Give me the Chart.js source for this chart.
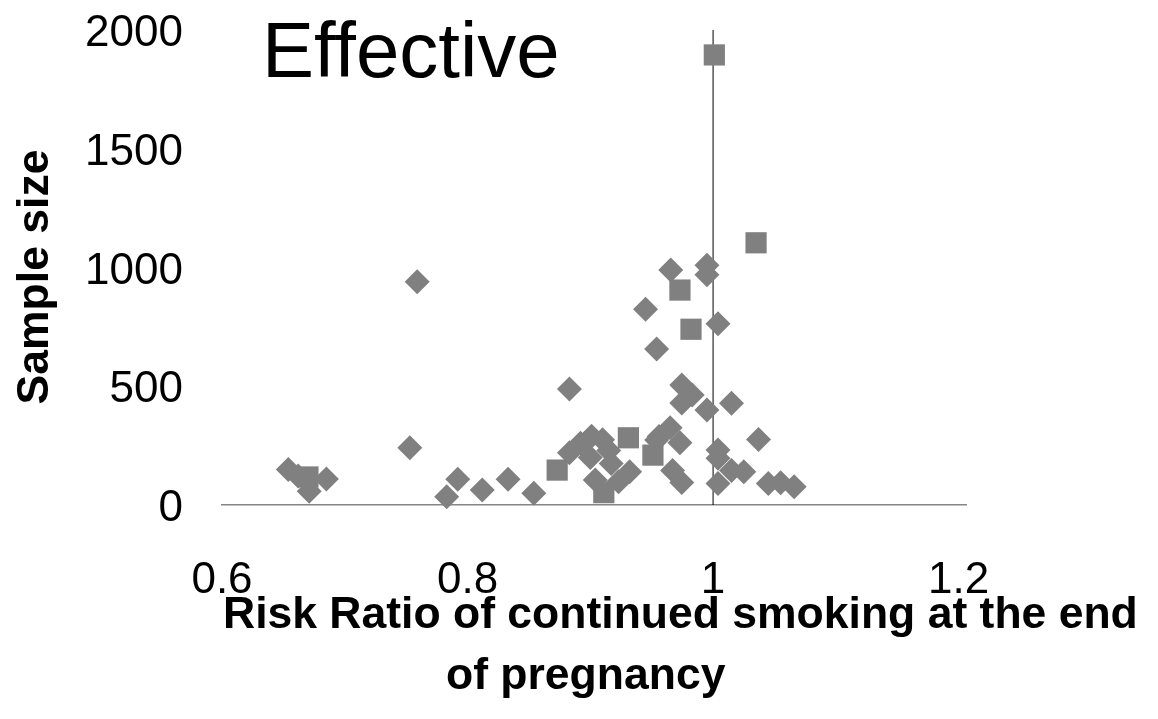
<!DOCTYPE html>
<html>
<head>
<meta charset="utf-8">
<script src="https://cdn.jsdelivr.net/npm/chart.js@4"></script>
<style>
html,body{margin:0;padding:0;background:#ffffff;}
#wrap{width:1158px;height:719px;position:relative;}
</style>
</head>
<body>
<div id="wrap"><canvas id="c" width="1158" height="719"></canvas></div>
<script>
// ---- data ----
const chartTitle = "Effective";
const xAxisTitle = ["Risk Ratio of continued smoking at the end", "of pregnancy"];
const yAxisTitle = "Sample size";
const xTicks = [0.6, 0.8, 1, 1.2];
const yTicks = [0, 500, 1000, 1500, 2000];

// diamond series: risk ratio / sample size
const diamondRR = [0.654, 0.662, 0.671, 0.685, 0.753, 0.759, 0.783, 0.792, 0.812, 0.833,
                   0.854, 0.883, 0.883, 0.892, 0.901, 0.910, 0.900, 0.915, 0.904, 0.917,
                   0.923, 0.932, 0.954, 0.956, 0.965, 0.973, 0.967, 0.9745, 0.9745, 0.983,
                   0.9745, 0.995, 1.015, 1.004, 1.004, 1.004, 1.015, 1.025, 1.037, 1.045,
                   1.055, 1.066, 0.9655, 0.995, 0.995, 0.945, 1.004, 0.954];
const diamondN  = [150, 122, 58, 110, 241, 940, 35, 108, 63, 108,
                   49, 488, 220, 260, 290, 275, 200, 230, 105, 175,
                   98, 140, 274, 288, 325, 262, 145, 95, 505, 463,
                   430, 400, 428, 232, 197, 91, 145, 140, 276, 91,
                   94, 77, 990, 1010, 970, 824, 763, 657];

// square series
const squareRR = [0.670, 0.873, 0.931, 0.911, 0.951, 1.035, 0.973, 0.982, 1.001];
const squareN  = [118, 147, 283, 52, 210, 1104, 905, 740, 1895];

// vertical axis drawn where x = 1
const refLineRR = [1, 1];
const refLineN  = [0, 2000];

const FONT = '"Liberation Sans", Arial, Helvetica, sans-serif';
const MARK = '#808080';

function pts(xs, ys) { return xs.map((x, i) => ({ x: x, y: ys[i] })); }

const textPlugin = {
  id: 'textPlugin',
  afterDraw(chart) {
    const ctx = chart.ctx;
    ctx.save();
    ctx.fillStyle = '#000';
    ctx.textBaseline = 'alphabetic';
    ctx.textAlign = 'left';
    ctx.font = '78px ' + FONT;
    ctx.fillText(chartTitle, 262, 77);
    ctx.font = 'bold 44.5px ' + FONT;
    ctx.fillText(xAxisTitle[0], 223, 628);
    ctx.fillText(xAxisTitle[1], 446, 689);
    // vertical axis title
    ctx.save();
    ctx.translate(36, 277);
    ctx.rotate(-Math.PI / 2);
    ctx.textAlign = 'center';
    ctx.textBaseline = 'middle';
    ctx.font = 'bold 44.5px ' + FONT;
    ctx.fillText(yAxisTitle, 0, 0);
    ctx.restore();
    ctx.restore();
  }
};

new Chart(document.getElementById('c'), {
  type: 'scatter',
  data: {
    datasets: [
      {
        label: 'Diamonds',
        data: pts(diamondRR, diamondN),
        pointStyle: 'rectRot',
        pointRadius: 12.5,
        pointHoverRadius: 12.5,
        backgroundColor: MARK,
        borderColor: MARK,
        borderWidth: 0,
        clip: false,
        order: 1
      },
      {
        label: 'Squares',
        data: pts(squareRR, squareN),
        pointStyle: 'rect',
        pointRadius: 15,
        pointHoverRadius: 15,
        backgroundColor: MARK,
        borderColor: MARK,
        borderWidth: 0,
        clip: false,
        order: 1
      },
      {
        label: 'axis',
        data: pts(refLineRR, refLineN),
        showLine: true,
        pointRadius: 0,
        borderColor: '#000000',
        borderWidth: 1,
        clip: false,
        order: 3
      }
    ]
  },
  options: {
    responsive: false,
    animation: false,
    devicePixelRatio: 1,
    layout: { padding: { top: 30, right: 192, left: 0, bottom: 0 } },
    plugins: {
      legend: { display: false },
      tooltip: { enabled: false },
      title: { display: false }
    },
    scales: {
      x: {
        type: 'linear',
        position: 'bottom',
        min: 0.6,
        max: 1.206,
        afterBuildTicks: s => { s.ticks = xTicks.map(v => ({ value: v })); },
        afterFit: s => { s.height = 214; s.paddingLeft = 0; s.paddingRight = 0; },
        grid: { display: false, drawTicks: false },
        border: { display: true, color: '#868686', width: 1.5 },
        ticks: {
          padding: 54,
          color: '#000',
          font: { family: FONT, size: 44, lineHeight: 1 },
          maxRotation: 0,
          autoSkip: false,
          callback: v => String(Number(v.toFixed(2)))
        },
        title: { display: false }
      },
      y: {
        type: 'linear',
        position: 'left',
        min: 0,
        max: 2000,
        afterBuildTicks: s => { s.ticks = yTicks.map(v => ({ value: v })); },
        afterFit: s => { s.width = 222; s.paddingTop = 0; s.paddingBottom = 0; },
        grid: { display: false, drawTicks: false },
        border: { display: false },
        ticks: {
          padding: 39,
          labelOffset: 4,
          color: '#000',
          font: { family: FONT, size: 44, lineHeight: 1 },
          autoSkip: false,
          callback: v => String(v)
        },
        title: { display: false }
      }
    }
  },
  plugins: [textPlugin]
});
</script>
</body>
</html>
